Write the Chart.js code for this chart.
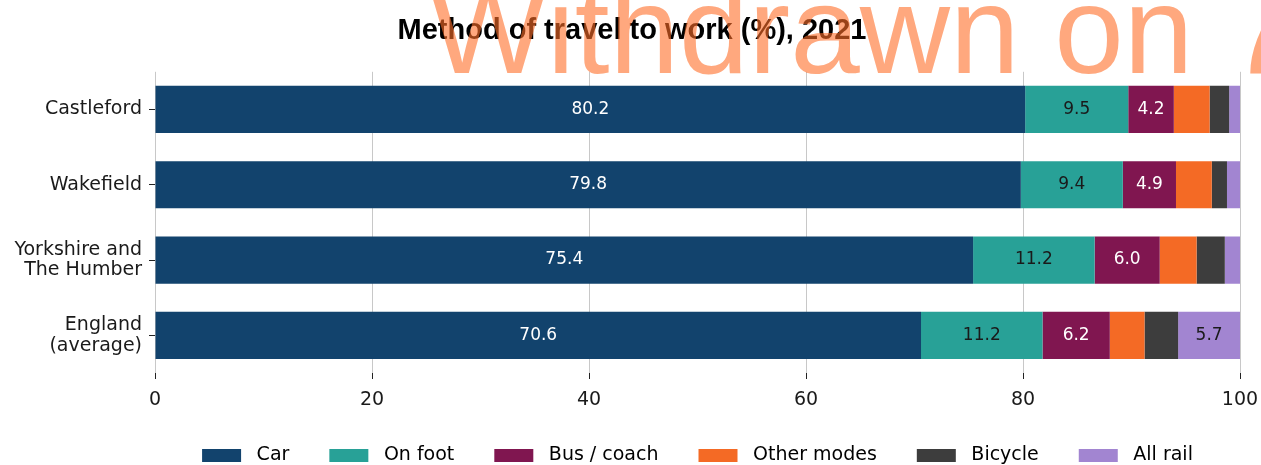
<!DOCTYPE html>
<html>
<head>
<meta charset="utf-8">
<script src="https://cdn.jsdelivr.net/npm/chart.js@4"></script>
<style>
  html, body { margin: 0; padding: 0; background: #ffffff; }
  #wrap { width: 1261px; height: 465px; }
</style>
</head>
<body>
<div id="wrap"><canvas id="c" width="1261" height="465"></canvas></div>
<script>
// ---- data ----
const categories = [["Castleford"], ["Wakefield"], ["Yorkshire and", "The Humber"], ["England", "(average)"]];
const seriesNames = ["Car", "On foot", "Bus / coach", "Other modes", "Bicycle", "All rail"];
const car = [80.2, 79.8, 75.4, 70.6];
const onFoot = [9.5, 9.4, 11.2, 11.2];
const busCoach = [4.2, 4.9, 6.0, 6.2];
const otherModes = [3.3, 3.3, 3.4, 3.2];
const bicycle = [1.8, 1.4, 2.6, 3.1];
const allRail = [1.0, 1.2, 1.4, 5.7];
const xTicks = [0, 20, 40, 60, 80, 100];
const titleText = "Method of travel to work (%), 2021";
const watermarkText = "Withdrawn on 7 March 2024";

const colors = ["#12436D", "#28A197", "#801650", "#F46A25", "#3D3D3D", "#A285D1"];
const labelColors = ["#ffffff", "#1a1a1a", "#ffffff", "#1a1a1a", "#ffffff", "#1a1a1a"];
const values = [car, onFoot, busCoach, otherModes, bicycle, allRail];
const LABEL_MIN = 4;

const datasets = seriesNames.map((name, i) => ({
  label: name,
  data: values[i],
  backgroundColor: colors[i],
  borderWidth: 0,
  categoryPercentage: 1.0,
  barPercentage: 0.627
}));

const valueLabels = {
  id: 'valueLabels',
  afterDatasetsDraw(chart) {
    const ctx = chart.ctx;
    ctx.save();
    ctx.font = '17px "DejaVu Sans"';
    ctx.textAlign = 'center';
    ctx.textBaseline = 'middle';
    chart.data.datasets.forEach((ds, di) => {
      const meta = chart.getDatasetMeta(di);
      meta.data.forEach((bar, j) => {
        const v = ds.data[j];
        if (v < LABEL_MIN) return;
        ctx.fillStyle = labelColors[di];
        ctx.fillText(v.toFixed(1), (bar.x + bar.base) / 2, bar.y);
      });
    });
    ctx.restore();
  }
};

const watermark = {
  id: 'watermark',
  afterDraw(chart) {
    const ctx = chart.ctx;
    ctx.save();
    ctx.font = '125px "Liberation Sans"';
    ctx.textAlign = 'left';
    ctx.textBaseline = 'alphabetic';
    ctx.fillStyle = 'rgba(255, 110, 40, 0.6)';
    ctx.fillText(watermarkText, 429, 73);
    ctx.restore();
  }
};

// legend: fixed height, centred over the plot area; title nudged right
const boxTweak = {
  id: 'boxTweak',
  beforeLayout(chart) {
    const lg = chart.legend;
    if (lg && !lg._tweaked) {
      lg._tweaked = true;
      const origFit = lg.fit;
      lg.fit = function () { origFit.call(this); this.height = 59; };
      const origDraw = lg.draw;
      lg.draw = function () {
        const l = this.left, r = this.right;
        this.left = chart.chartArea.left;
        this.right = chart.chartArea.right;
        origDraw.call(this);
        this.left = l; this.right = r;
      };
    }
    const tb = chart.titleBlock;
    if (tb && !tb._tweaked) {
      tb._tweaked = true;
      const origDraw = tb.draw;
      tb.draw = function () {
        const l = this.left, r = this.right;
        this.left = l + 24;
        this.right = r;
        origDraw.call(this);
        this.left = l; this.right = r;
      };
    }
  }
};

new Chart(document.getElementById('c'), {
  type: 'bar',
  data: { labels: categories, datasets },
  options: {
    indexAxis: 'y',
    responsive: false,
    animation: false,
    devicePixelRatio: 1,
    layout: { padding: { left: 0, right: 21, top: 0, bottom: 0 } },
    scales: {
      x: {
        stacked: true,
        min: 0,
        max: 100,
        afterBuildTicks: (scale) => { scale.ticks = xTicks.map(v => ({ value: v })); },
        afterFit: (scale) => { scale.height = 33; scale.paddingRight = 0; scale.paddingLeft = 0; },
        grid: { color: '#c8c8c8', lineWidth: 1, tickColor: '#222222', tickLength: 6, drawOnChartArea: true },
        border: { display: false },
        ticks: { font: { family: 'DejaVu Sans', size: 19 }, color: '#1a1a1a', padding: 10 }
      },
      y: {
        stacked: true,
        afterFit: (scale) => { scale.width = 155; },
        grid: { drawOnChartArea: false, offset: false, tickColor: '#222222', tickLength: 6 },
        border: { display: false },
        ticks: { font: { family: 'DejaVu Sans', size: 19, lineHeight: 1.1 }, color: '#1a1a1a', padding: 7 }
      }
    },
    plugins: {
      title: {
        display: true,
        text: titleText,
        color: '#000000',
        font: { family: 'Liberation Sans', size: 29, weight: 'bold' },
        padding: { top: 14, bottom: 23 }
      },
      legend: {
        position: 'bottom',
        labels: {
          font: { family: 'DejaVu Sans', size: 19 },
          color: '#1a1a1a',
          boxWidth: 39,
          boxHeight: 13,
          padding: 40,
          generateLabels: (chart) => chart.data.datasets.map((ds, i) => ({
            text: ' ' + ds.label,
            fillStyle: ds.backgroundColor,
            strokeStyle: ds.backgroundColor,
            lineWidth: 0,
            hidden: false,
            datasetIndex: i
          }))
        }
      },
      tooltip: { enabled: false }
    }
  },
  plugins: [valueLabels, watermark, boxTweak]
});
</script>
</body>
</html>
